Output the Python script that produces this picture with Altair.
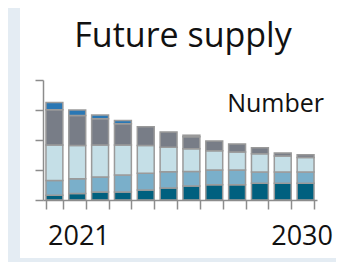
import altair as alt
import pandas as pd

# ---- data ----
periods = [str(i) for i in range(1, 13)]
tick_labels = {"1": "2021", "12": "2030"}
series = ["S1", "S2", "S3", "S4", "S5"]  # bottom -> top
s1 = [0.16, 0.22, 0.27, 0.27, 0.33, 0.40, 0.47, 0.51, 0.51, 0.56, 0.56, 0.56]
s2 = [0.49, 0.49, 0.50, 0.56, 0.56, 0.54, 0.48, 0.49, 0.49, 0.37, 0.37, 0.37]
s3 = [1.18, 1.11, 1.06, 1.00, 0.93, 0.82, 0.76, 0.64, 0.60, 0.61, 0.54, 0.49]
s4 = [1.18, 1.00, 0.88, 0.71, 0.62, 0.51, 0.40, 0.33, 0.27, 0.20, 0.10, 0.09]
s5 = [0.24, 0.18, 0.12, 0.11, 0.0, 0.0, 0.05, 0.0, 0.0, 0.0, 0.0, 0.0]
colors = ["#00607f", "#7aafca", "#c5dfe7", "#787d87", "#2a77b4"]
y_ticks = [0, 1, 2, 3, 4]
title_text = "Future supply"
unit_text = "Number"

rows = []
for si, (name, vals) in enumerate(zip(series, [s1, s2, s3, s4, s5])):
    for p, v in zip(periods, vals):
        if v > 0:
            rows.append({"period": p, "series": name, "idx": si, "value": v})
df = pd.DataFrame(rows)

W, H = 274, 120
AXIS_GRAY = "#8c8c8c"

label_expr = " : ".join(
    f"datum.value == '{k}' ? '{v}'" for k, v in tick_labels.items()
) + " : ''"

panel = alt.Chart(pd.DataFrame({"p": [0]})).mark_rect(fill="white").encode(
    x=alt.value(-23), x2=alt.value(293), y=alt.value(-72), y2=alt.value(178)
)

bars = alt.Chart(df).mark_bar(stroke="#9a9a9a", strokeWidth=1.5).encode(
    x=alt.X(
        "period:N",
        sort=periods,
        scale=alt.Scale(paddingInner=0.26),
        axis=alt.Axis(
            title=None,
            zindex=1,
            tickBand="extent",
            labelExpr=label_expr,
            labelAngle=0,
            labelFont="Open Sans",
            labelFontSize=27,
            labelColor="#111111",
            labelBaseline="alphabetic",
            labelPadding=35,
            labelOverlap=False,
            labelFlush=False,
            labelOffset={"condition": {"test": "datum.value == '1'", "value": 24}, "value": -4},
            tickSize=9,
            tickColor=AXIS_GRAY,
            tickWidth=1.5,
            domainColor=AXIS_GRAY,
            domainWidth=1.5,
        ),
    ),
    y=alt.Y(
        "value:Q",
        stack="zero",
        scale=alt.Scale(domain=[0, 4], nice=False),
        axis=alt.Axis(
            title=None,
            zindex=1,
            values=y_ticks,
            labels=False,
            grid=False,
            tickSize=8,
            tickColor=AXIS_GRAY,
            tickWidth=1.5,
            domainColor=AXIS_GRAY,
            domainWidth=1.5,
        ),
    ),
    color=alt.Color("series:N", scale=alt.Scale(domain=series, range=colors), legend=None),
    order=alt.Order("idx:Q"),
)

note = alt.Chart(pd.DataFrame({"t": [unit_text]})).mark_text(
    align="right", baseline="alphabetic", font="Open Sans", fontSize=25, color="#111111"
).encode(text="t:N", x=alt.value(281), y=alt.value(32))

title = alt.Chart(pd.DataFrame({"t": [title_text]})).mark_text(
    align="center", baseline="alphabetic", font="Open Sans", fontSize=34, color="#111111"
).encode(text="t:N", x=alt.value(140), y=alt.value(-33))

chart = (
    alt.layer(panel, bars, note, title)
    .properties(width=W, height=H)
    .configure(
        background="#e4ecf3",
        padding={"left": 35, "top": 72, "right": 19, "bottom": 62},
        autosize=alt.AutoSizeParams(type="none"),
    )
    .configure_view(stroke=None)
)

chart.save("out.html", embed_options={"renderer": "svg", "actions": False})
